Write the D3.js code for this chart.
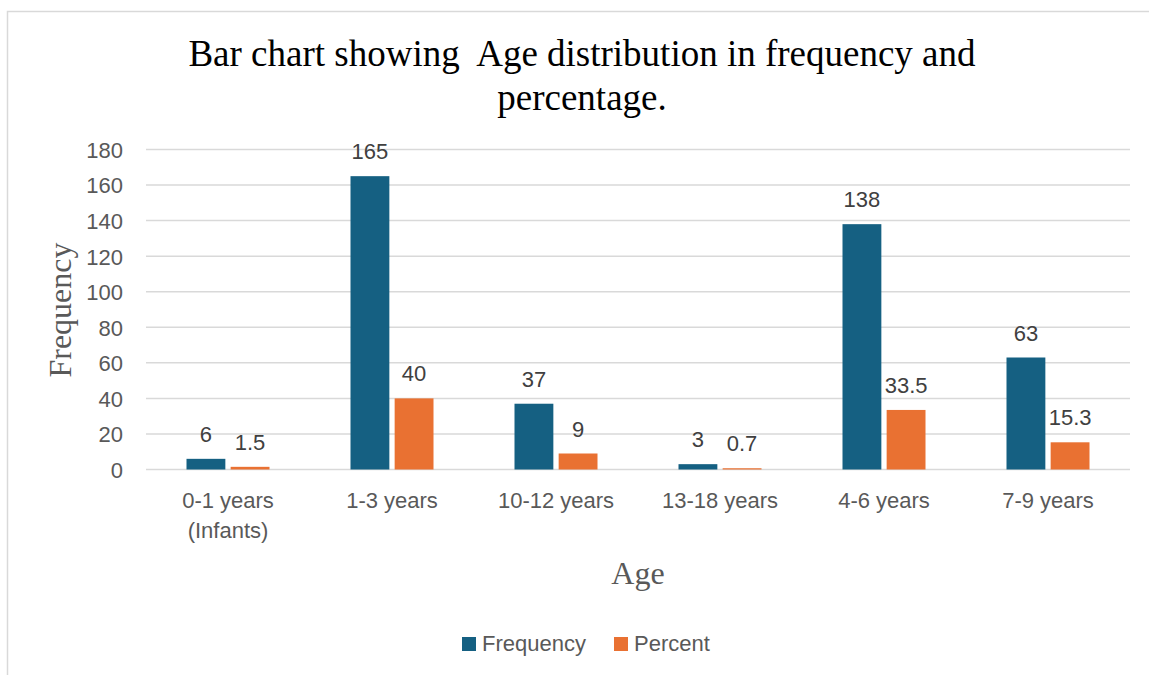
<!DOCTYPE html>
<html>
<head>
<meta charset="utf-8">
<script src="https://cdn.jsdelivr.net/npm/d3@7"></script>
<style>
  html, body { margin: 0; padding: 0; background: #fff; }
  svg { display: block; }
</style>
</head>
<body>
<script>
// Age groups and the two series shown for each
const categories = ["0-1 years\n(Infants)", "1-3 years", "10-12 years", "13-18 years", "4-6 years", "7-9 years"];
const frequency = [6, 165, 37, 3, 138, 63];
const percent = [1.5, 40, 9, 0.7, 33.5, 15.3];
const seriesNames = ["Frequency", "Percent"];
const yTicks = [0, 20, 40, 60, 80, 100, 120, 140, 160, 180];

const W = 1149, H = 675;
const colors = ["#156082", "#E97132"];
const plot = { left: 146, right: 1130, top: 149.5, bottom: 469.5 };
const sans = "'Liberation Sans', Arial, sans-serif";
const serif = "'Liberation Serif', 'Times New Roman', serif";

const svg = d3.select("body").append("svg").attr("width", W).attr("height", H);

// chart frame (partially cropped)
svg.append("path")
  .attr("d", `M7.5,${H} V11.5 H${W}`)
  .attr("fill", "none").attr("stroke", "#d9d9d9").attr("stroke-width", 1.5);

const x0 = d3.scaleBand().domain(categories).range([plot.left, plot.right]).padding(0);
const y = d3.scaleLinear().domain([0, 180]).range([plot.bottom, plot.top]);

// clustered bar geometry inside each band
const groupW = 83;
const x1 = d3.scaleBand().domain(seriesNames).range([0, groupW]).paddingInner(0.12);

// gridlines
svg.append("g").selectAll("line").data(yTicks).join("line")
  .attr("x1", plot.left).attr("x2", plot.right)
  .attr("y1", d => y(d)).attr("y2", d => y(d))
  .attr("stroke", "#d9d9d9").attr("stroke-width", 1.5);

// y axis tick labels
const yAxis = d3.axisLeft(y).tickValues(yTicks).tickSize(0).tickPadding(0);
const gy = svg.append("g").attr("transform", `translate(${plot.left - 23},0)`).call(yAxis);
gy.select(".domain").remove();
gy.selectAll("text")
  .attr("font-family", sans).attr("font-size", 22)
  .attr("fill", "#595959").attr("dy", "0.36em");

// bars
const rows = categories.map((c, i) => ({ cat: c, vals: [frequency[i], percent[i]] }));
const groups = svg.append("g").selectAll("g").data(rows).join("g")
  .attr("transform", d => `translate(${x0(d.cat) + (x0.bandwidth() - groupW) / 2},0)`);

groups.selectAll("rect").data(d => d.vals.map((v, k) => ({ v, k }))).join("rect")
  .attr("x", d => x1(seriesNames[d.k]))
  .attr("width", x1.bandwidth())
  .attr("y", d => y(d.v))
  .attr("height", d => y(0) - y(d.v))
  .attr("fill", d => colors[d.k]);

// value labels
groups.selectAll("text").data(d => d.vals.map((v, k) => ({ v, k }))).join("text")
  .attr("x", d => x1(seriesNames[d.k]) + x1.bandwidth() / 2)
  .attr("y", d => y(d.v) - 17)
  .attr("text-anchor", "middle")
  .attr("font-family", sans).attr("font-size", 22)
  .attr("fill", "#404040")
  .text(d => d.v);

// x axis category labels
const xAxis = svg.append("g");
categories.forEach(c => {
  const lines = c.split("\n");
  const cx = x0(c) + x0.bandwidth() / 2;
  const t = xAxis.append("text")
    .attr("x", cx).attr("y", 508)
    .attr("text-anchor", "middle")
    .attr("font-family", sans).attr("font-size", 22)
    .attr("fill", "#595959");
  lines.forEach((ln, i) => t.append("tspan").attr("x", cx).attr("dy", i ? 30 : 0).text(ln));
});

// title
const title = svg.append("text")
  .attr("text-anchor", "middle")
  .attr("font-family", serif).attr("font-size", 37)
  .attr("fill", "#000");
title.append("tspan").attr("x", 582).attr("y", 66).text("Bar chart showing\u00a0 Age distribution in frequency and");
title.append("tspan").attr("x", 582).attr("y", 110).text("percentage.");

// axis titles
svg.append("text")
  .attr("transform", "translate(71,310) rotate(-90)")
  .attr("text-anchor", "middle")
  .attr("font-family", serif).attr("font-size", 32)
  .attr("fill", "#595959").text("Frequency");

svg.append("text")
  .attr("x", 638).attr("y", 584)
  .attr("text-anchor", "middle")
  .attr("font-family", serif).attr("font-size", 32)
  .attr("fill", "#595959").text("Age");

// legend
const legend = svg.append("g");
const legendX = [462, 614];
seriesNames.forEach((s, k) => {
  legend.append("rect").attr("x", legendX[k]).attr("y", 637).attr("width", 14).attr("height", 14).attr("fill", colors[k]);
  legend.append("text").attr("x", legendX[k] + 20).attr("y", 651)
    .attr("font-family", sans).attr("font-size", 22)
    .attr("fill", "#595959").text(s);
});
</script>
</body>
</html>
